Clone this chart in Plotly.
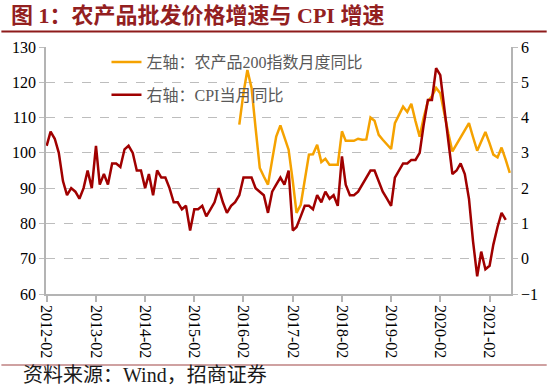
import pandas as pd
import plotly.graph_objects as go

# ---- data ----
cpi_start = "2012-02-01"
cpi_yoy = [
    3.2, 3.6, 3.4, 3.0, 2.2, 1.8, 2.0, 1.9, 1.7, 2.0, 2.5,
    2.0, 3.2, 2.1, 2.4, 2.1, 2.7, 2.7, 2.6, 3.1, 3.2, 3.0, 2.5,
    2.5, 2.0, 2.4, 1.8, 2.5, 2.3, 2.3, 2.0, 1.6, 1.6, 1.4, 1.5,
    0.8, 1.4, 1.4, 1.5, 1.2, 1.4, 1.6, 2.0, 1.6, 1.3, 1.5, 1.6,
    1.8, 2.3, 2.3, 2.3, 2.0, 1.9, 1.8, 1.3, 1.9, 2.1, 2.3, 2.1,
    2.5, 0.8, 0.9, 1.2, 1.5, 1.5, 1.4, 1.8, 1.6, 1.9, 1.7, 1.8,
    1.5, 2.9, 2.1, 1.8, 1.8, 1.9, 2.1, 2.3, 2.5, 2.5, 2.2, 1.9,
    1.7, 1.5, 2.3, 2.5, 2.7, 2.7, 2.8, 2.8, 3.0, 3.8, 4.5, 4.5,
    5.4, 5.2, 4.3, 3.3, 2.4, 2.5, 2.7, 2.4, 1.7, 0.5, -0.5, 0.2,
    -0.3, -0.2, 0.4, 0.9, 1.3, 1.1,
]

agri_start = "2016-01-01"
agri200_yoy = [
    108.0, 117.0, 123.5, 118.4, 107.0, 95.7, 93.3, 91.0, 98.0, 104.6, 107.8, 104.5,
    100.9, 92.0, 83.0, 85.3, 92.5, 99.5, 99.6, 102.3, 97.4, 98.3, 96.6, 96.6,
    96.6, 106.1, 103.4, 103.4, 103.4, 104.0, 103.7, 103.8, 110.0, 109.1, 105.1, 103.7,
    102.5, 101.1, 108.4, 111.0, 113.1, 111.6, 113.9, 109.0, 104.6, 110.0, 114.6, 116.0,
    118.4, 116.9, 111.0, 105.5, 100.4, 102.5, 104.6, 106.5, 108.4, 104.5, 100.6, 103.2,
    105.9, 102.7, 99.5, 98.7, 101.5, 98.0, 94.3,
]

tick_dates = ["2012-02-01", "2013-02-01", "2014-02-01", "2015-02-01", "2016-02-01",
              "2017-02-01", "2018-02-01", "2019-02-01", "2020-02-01", "2021-02-01"]
tick_labels = ["2012-02", "2013-02", "2014-02", "2015-02", "2016-02",
               "2017-02", "2018-02", "2019-02", "2020-02", "2021-02"]

name_agri = "左轴：农产品200指数月度同比"
name_cpi = "右轴：CPI当月同比"
title_text = "图 1：农产品批发价格增速与 CPI 增速"
source_text = "资料来源：Wind，招商证券"

cpi_dates = pd.date_range(cpi_start, periods=len(cpi_yoy), freq="MS")
agri_dates = pd.date_range(agri_start, periods=len(agri200_yoy), freq="MS")

# ---- style ----
FONT = "Liberation Serif, Noto Sans CJK SC"
ORANGE = "#F5A200"
DARKRED = "#A00000"
AXIS = "#B4B4B4"
GRID = "#BDBDBD"

W, H = 550, 388
ML, MR, MT, MB = 45, 36, 47, 94
PW, PH = W - ML - MR, H - MT - MB


def px(x):
    return (x - ML) / PW


def py(y):
    return (H - MB - y) / PH


fig = go.Figure()
fig.add_trace(go.Scatter(
    x=agri_dates, y=agri200_yoy, name=name_agri, mode="lines",
    line=dict(color=ORANGE, width=2.5), yaxis="y", legendgroup="a",
))
fig.add_trace(go.Scatter(
    x=cpi_dates, y=cpi_yoy, name=name_cpi, mode="lines",
    line=dict(color=DARKRED, width=2.5), yaxis="y2", legendgroup="b",
))

fig.update_layout(
    width=W, height=H,
    margin=dict(l=ML, r=MR, t=MT, b=MB),
    paper_bgcolor="white", plot_bgcolor="white",
    font=dict(family=FONT, size=16, color="#000000"),
    showlegend=True,
    legend=dict(
        x=px(106), y=py(45), xanchor="left", yanchor="top",
        bgcolor="rgba(0,0,0,0)", borderwidth=0,
        font=dict(family=FONT, size=16, color="#595959"),
        traceorder="grouped", tracegroupgap=9,
    ),
    xaxis=dict(
        type="date", range=["2012-01-27", "2021-07-10"],
        tickvals=tick_dates, ticktext=tick_labels, tickangle=90,
        showline=True, linecolor=AXIS, linewidth=1.5,
        ticks="outside", ticklen=6, tickcolor=AXIS, tickwidth=1.5,
        showgrid=False, zeroline=False,
        tickfont=dict(family=FONT, size=16, color="#000000"),
    ),
    yaxis=dict(
        range=[60, 130], dtick=10, tick0=60,
        showline=True, linecolor=AXIS, linewidth=1.5,
        ticks="outside", ticklen=5, tickcolor=GRID,
        showgrid=True, gridcolor=GRID, griddash="dash", gridwidth=1,
        zeroline=False,
        tickfont=dict(family=FONT, size=16, color="#000000"),
    ),
    yaxis2=dict(
        range=[-1, 6], dtick=1, tick0=-1,
        overlaying="y", side="right",
        showline=True, linecolor=AXIS, linewidth=1.5,
        ticks="outside", ticklen=5, tickcolor=GRID,
        showgrid=False, zeroline=False,
        tickfont=dict(family=FONT, size=16, color="#000000"),
    ),
    shapes=[
        dict(type="line", xref="paper", yref="paper",
             x0=px(0), x1=px(W), y0=py(31.5), y1=py(31.5),
             line=dict(color="#8E1B1B", width=2)),
        dict(type="line", xref="paper", yref="paper",
             x0=px(0), x1=px(W), y0=py(365), y1=py(365),
             line=dict(color="#A04545", width=1.2)),
    ],
    annotations=[
        dict(text="<b>" + title_text + "</b>", xref="paper", yref="paper",
             x=px(8), y=py(15), xanchor="left", yanchor="middle",
             showarrow=False,
             font=dict(family=FONT, size=22, color="#93201F")),
        dict(text=source_text, xref="paper", yref="paper",
             x=px(20), y=py(375), xanchor="left", yanchor="middle",
             showarrow=False,
             font=dict(family=FONT, size=20, color="#1A1A1A")),
    ],
)

fig.write_html(
    "out.html",
    config={"displayModeBar": False},
    post_script="document.body.style.margin='0';document.body.style.overflow='hidden';",
)
